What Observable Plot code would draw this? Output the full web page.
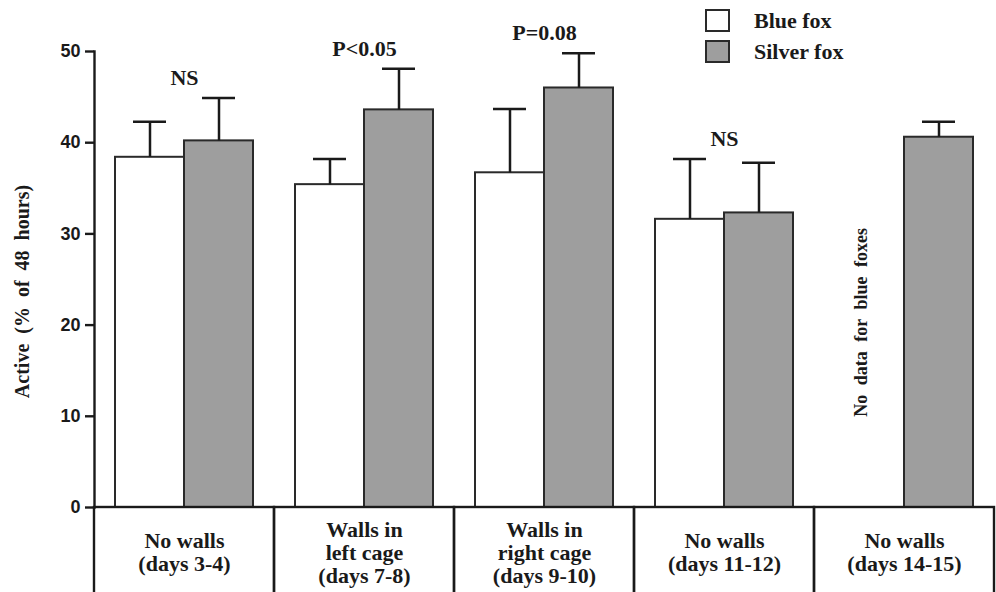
<!DOCTYPE html>
<html>
<head>
<meta charset="utf-8">
<script src="https://cdn.jsdelivr.net/npm/d3@7"></script>
<script src="https://cdn.jsdelivr.net/npm/@observablehq/plot@0.6"></script>
<style>
  html, body { margin: 0; padding: 0; background: white; }
  #wrap { position: relative; width: 996px; height: 592px; overflow: hidden; }
  .legend { position: absolute; left: 705px; top: 5px; font-family: "Liberation Serif", serif; font-weight: bold; font-size: 22px; color: #1a1a1a; }
  .legend .row { display: flex; align-items: center; height: 31px; }
  .legend .sw { width: 21px; height: 19px; border: 2px solid #2a2a2a; margin-right: 24px; }
  g[aria-label="y-axis tick label"] text { font-family: "Liberation Sans", sans-serif; }
</style>
</head>
<body>
<div id="wrap"></div>
<script>
const categories = ["No walls\n(days 3-4)", "Walls in\nleft cage\n(days 7-8)", "Walls in\nright cage\n(days 9-10)", "No walls\n(days 11-12)", "No walls\n(days 14-15)"];
const species = ["Blue fox", "Silver fox"];
const blueMean = [38.4, 35.4, 36.7, 31.6, null];
const blueErr = [3.9, 2.8, 7.0, 6.6, null];
const silverMean = [40.2, 43.6, 46.0, 32.3, 40.6];
const silverErr = [4.7, 4.5, 3.8, 5.5, 1.7];
const significance = ["NS", "P<0.05", "P=0.08", "NS", ""];
const yTicks = [0, 10, 20, 30, 40, 50];
const yLabel = "Active (% of 48 hours)";
const noDataNote = "No data for blue foxes";
const colors = ["#ffffff", "#9e9e9e"];

const rows = [];
categories.forEach((c, i) => {
  if (blueMean[i] != null) rows.push({cat: c, species: species[0], mean: blueMean[i], err: blueErr[i]});
  if (silverMean[i] != null) rows.push({cat: c, species: species[1], mean: silverMean[i], err: silverErr[i]});
});
const sigRows = categories.map((c, i) => ({
  cat: c, label: significance[i],
  top: d3.max(rows.filter(r => r.cat === c), r => r.mean + r.err)
})).filter(d => d.label);
const noDataRows = categories.map((c, i) => ({cat: c, mean: silverMean[i]})).filter((d, i) => blueMean[i] == null);

const chart = Plot.plot({
  width: 996, height: 592,
  marginLeft: 92, marginRight: 1, marginTop: 51, marginBottom: 85,
  style: {fontFamily: "Liberation Serif", background: "white", color: "#1a1a1a"},
  fx: {domain: categories, padding: 0, axis: null},
  x: {domain: species, paddingInner: 0, paddingOuter: 0.29, axis: null},
  y: {domain: [0, 50], ticks: yTicks, tickSize: 9, tickPadding: 5, line: true, label: null},
  color: {domain: species, range: colors},
  marks: [
    Plot.barY(rows, {fx: "cat", x: "species", y: "mean", fill: "species", stroke: "#2a2a2a", strokeWidth: 2}),
    Plot.ruleX(rows, {fx: "cat", x: "species", y1: "mean", y2: d => d.mean + d.err, stroke: "#1a1a1a", strokeWidth: 2.5}),
    Plot.tickY(rows, {fx: "cat", x: "species", y: d => d.mean + d.err, stroke: "#1a1a1a", strokeWidth: 2.5, insetLeft: 18, insetRight: 18}),
    Plot.rect([0], {y1: 0, y2: -12, fill: "none", stroke: "#1a1a1a", strokeWidth: 2.4}),
    Plot.text(categories, {fx: d => d, text: d => d, frameAnchor: "bottom", dy: 45, lineAnchor: "middle", lineHeight: 1.05, fontSize: 22, fontWeight: "bold"}),
    Plot.text(sigRows, {fx: "cat", y: "top", text: "label", dy: -20, fontSize: 22, fontWeight: "bold"}),
    Plot.text(noDataRows, {fx: "cat", x: () => species[0], y: d => d.mean / 2, text: () => noDataNote, rotate: -90, fontSize: 18, fontWeight: "bold", dx: -9}),
    Plot.text([yLabel], {fx: () => categories[0], text: d => d, frameAnchor: "left", textAnchor: "middle", rotate: -90, dx: -72, dy: 12, fontSize: 20, fontWeight: "bold"})
  ]
});
const svg = d3.select(chart);
svg.selectAll("text").filter(function() { const t = this.textContent; return t === yLabel || t === noDataNote; }).style("word-spacing", "5px");
svg.selectAll('g[aria-label="y-axis tick label"]').attr("font-family", "Liberation Sans").attr("font-weight", "bold").attr("font-size", 18);
svg.selectAll('g[aria-label="y-axis tick"], g[aria-label="frame"]').attr("stroke-width", 2.4);
const wrap = document.getElementById("wrap");
wrap.appendChild(chart);
const legend = document.createElement("div");
legend.className = "legend";
species.forEach((s, i) => {
  const row = document.createElement("div"); row.className = "row";
  const sw = document.createElement("div"); sw.className = "sw"; sw.style.background = colors[i];
  const lab = document.createElement("span"); lab.textContent = s;
  row.appendChild(sw); row.appendChild(lab); legend.appendChild(row);
});
wrap.appendChild(legend);
</script>
</body>
</html>
